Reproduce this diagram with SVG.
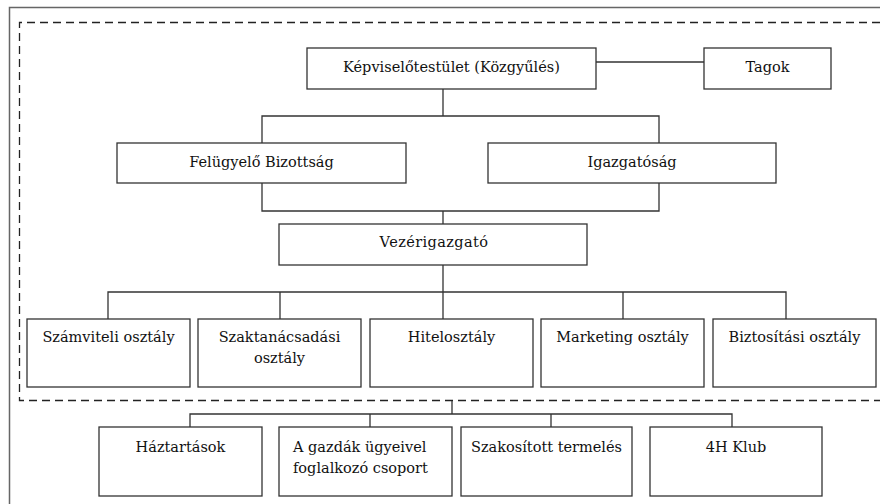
<svg xmlns="http://www.w3.org/2000/svg" width="880" height="504" viewBox="0 0 880 504">
<style>
.box{fill:#fff;stroke:#333;stroke-width:1.3}
text{font-family:"DejaVu Serif",serif;font-size:14.5px;fill:#111}
.t{text-anchor:middle}
.ts{text-anchor:start}
.c{fill:none;stroke:#333;stroke-width:1.3}
</style>
<rect x="0" y="0" width="880" height="504" fill="#fff"/>
<g id="frame">
<path d="M9.5,504 V7.5 H880" fill="none" stroke="#666" stroke-width="1.5"/>
<path d="M880,22.5 H19.5 V400.5 H880" fill="none" stroke="#222" stroke-width="1.3" stroke-dasharray="8,5"/>
</g>
<g id="connectors" class="c">
<path d="M596,62 H704"/>
<path d="M443,89 V116 M262,143 V116 H659 V143"/>
<path d="M262,183 V211 H659 V183 M443,211 V224"/>
<path d="M443,265 V292 M108,319 V292 H786 V319 M280,292 V319 M443,292 V319 M623,292 V319"/>
<path d="M452,401 V414 M190,427 V414 H732 V427 M370,414 V427 M551,414 V427"/>
</g>
<g id="kepviselo"><rect class="box" x="307" y="48" width="289" height="41"/><text class="t" x="451.5" y="72">Képviselőtestület (Közgyűlés)</text></g>
<g id="tagok"><rect class="box" x="704" y="48" width="127" height="41"/><text class="t" x="767.5" y="72">Tagok</text></g>
<g id="felugyelo"><rect class="box" x="117" y="143" width="289" height="40"/><text class="t" x="261.5" y="167">Felügyelő Bizottság</text></g>
<g id="igazgatosag"><rect class="box" x="488" y="143" width="288" height="40"/><text class="t" x="632" y="167">Igazgatóság</text></g>
<g id="vezerigazgato"><rect class="box" x="279" y="224" width="308" height="41"/><text class="t" x="434" y="247" letter-spacing="0.4">Vezérigazgató</text></g>
<g id="szamviteli"><rect class="box" x="27" y="319" width="163" height="68"/><text class="t" x="108.5" y="342">Számviteli osztály</text></g>
<g id="szaktanacsadasi"><rect class="box" x="198" y="319" width="163" height="68"/><text class="t" x="279.5" y="342">Szaktanácsadási</text><text class="t" x="279.5" y="363">osztály</text></g>
<g id="hitelosztaly"><rect class="box" x="370" y="319" width="163" height="68"/><text class="t" x="451.5" y="342">Hitelosztály</text></g>
<g id="marketing"><rect class="box" x="541" y="319" width="163" height="68"/><text class="t" x="622.5" y="342">Marketing osztály</text></g>
<g id="biztositasi"><rect class="box" x="713" y="319" width="163" height="68"/><text class="t" x="794.5" y="342">Biztosítási osztály</text></g>
<g id="haztartasok"><rect class="box" x="99" y="427" width="163" height="69"/><text class="t" x="180.5" y="452">Háztartások</text></g>
<g id="gazdak"><rect class="box" x="279" y="427" width="173" height="69"/><text class="ts" x="293" y="452">A gazdák ügyeivel</text><text class="ts" x="293" y="473">foglalkozó csoport</text></g>
<g id="szakositott"><rect class="box" x="461" y="427" width="171" height="69"/><text class="t" x="546.5" y="452">Szakosított termelés</text></g>
<g id="klub"><rect class="box" x="650" y="427" width="172" height="69"/><text class="t" x="736" y="452">4H Klub</text></g>
</svg>
